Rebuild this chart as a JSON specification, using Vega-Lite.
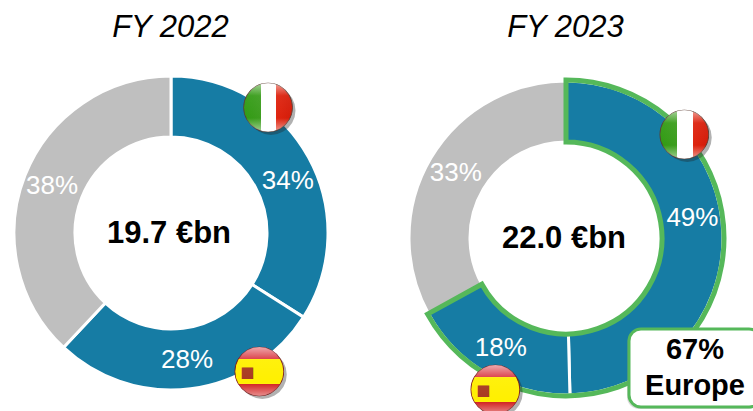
{"$schema":"https://vega.github.io/schema/vega-lite/v6.json","width":753,"height":411,"padding":0,"autosize":"none","background":"white","config":{"view":{"stroke":null}},
"datasets":{
"shares":[{"year":"FY 2022","region":"Italy","rank":1,"share":34,"labelAt":18.3,"text":"34%"},{"year":"FY 2022","region":"Spain","rank":2,"share":28,"labelAt":48,"text":"28%"},{"year":"FY 2022","region":"Other","rank":3,"share":38,"labelAt":81,"text":"38%"},{"year":"FY 2023","region":"Italy","rank":1,"share":49.6,"labelAt":22.5,"text":"49%"},{"year":"FY 2023","region":"Spain","rank":2,"share":17.4,"labelAt":58.5,"text":"18%"},{"year":"FY 2023","region":"Other","rank":3,"share":33,"labelAt":83.5,"text":"33%"}],
"totals":[{"year":"FY 2022","total":"19.7 €bn"},{"year":"FY 2023","total":"22.0 €bn"}],
"europe":[{"year":"FY 2023","from":0,"to":67,"label":"67%\nEurope"}],
"flags":[{"year":"FY 2022","flag":"Italy","at":10.5,"reach":1.01},{"year":"FY 2022","flag":"Spain","at":41,"reach":1.05},{"year":"FY 2023","flag":"Italy","at":13.6,"reach":1.0},{"year":"FY 2023","flag":"Spain","at":56.9,"reach":1.07}]
},
"data":{"name":"shares"},
"encoding":{
"x":{"field":"year","type":"nominal","scale":{"type":"point","domain":["FY 2022","FY 2023"],"range":[171,566],"padding":0},"axis":{"orient":"top","title":null,"domain":false,"ticks":false,"grid":false,"labelFont":"Liberation Sans","labelFontSize":31,"labelFontStyle":"italic","labelColor":"black","labelAngle":0,"labelPadding":0,"labelOffset":-1,"offset":-43}},
"y":{"field":"year","type":"nominal","scale":{"type":"point","domain":["FY 2022","FY 2023"],"range":[233,238],"padding":0},"axis":null}
},
"layer":[
{"transform":[{"stack":"share","groupby":["year"],"sort":[{"field":"rank","order":"ascending"}],"as":["s0","s1"]}],
"mark":{"type":"arc","radius":157,"radius2":96,"stroke":"white","strokeWidth":3},
"encoding":{"theta":{"field":"s0","type":"quantitative","scale":{"domain":[0,100],"range":[0,6.28318]}},"theta2":{"field":"s1"},"color":{"field":"region","type":"nominal","legend":null,"scale":{"domain":["Italy","Spain","Other"],"range":["#167CA4","#167CA4","#BFBFBF"]}}}},
{"data":{"name":"europe"},"mark":{"type":"arc","radius":158,"radius2":96,"fillOpacity":0,"fill":"white","stroke":"#55B85A","strokeWidth":5},"encoding":{"theta":{"field":"from","type":"quantitative","scale":{"domain":[0,100],"range":[0,6.28318]}},"theta2":{"field":"to"}}},
{"mark":{"type":"text","font":"Liberation Sans","fontSize":26,"color":"white","radius":128},"encoding":{"theta":{"field":"labelAt","type":"quantitative","scale":{"domain":[0,100],"range":[0,6.28318]}},"text":{"field":"text"}}},
{"data":{"name":"totals"},"mark":{"type":"text","font":"Liberation Sans","fontSize":31,"fontWeight":"bold","color":"black","dx":-2,"dy":1},"encoding":{"text":{"field":"total"}}},
{"data":{"name":"flags"},"mark":{"type":"text","font":"DejaVu Sans","fontSize":64,"color":"#222222","opacity":0.35,"dx":3,"dy":0,"baseline":"middle"},"encoding":{"theta":{"field":"at","type":"quantitative","scale":{"domain":[0,100],"range":[0,6.28318]}},"radius":{"field":"reach","type":"quantitative","scale":{"domain":[0,1],"range":[0,157]}},"text":{"value":"●"}}},
{"data":{"name":"flags"},"transform":[{"filter":"datum.flag==='Italy'"}],"mark":{"type":"text","font":"DejaVu Sans","fontSize":64,"dy":-3,"baseline":"middle","stroke":"#5A3A30","strokeWidth":0.7,"fill":{"gradient":"linear","x1":0,"x2":1,"y1":0,"y2":0,"stops":[{"offset":0,"color":"#2E9A10"},{"offset":0.375,"color":"#3E9E20"},{"offset":0.375,"color":"#FFFFFF"},{"offset":0.645,"color":"#FFFFFF"},{"offset":0.645,"color":"#E02510"},{"offset":1,"color":"#D01A08"}]}},"encoding":{"theta":{"field":"at","type":"quantitative","scale":{"domain":[0,100],"range":[0,6.28318]}},"radius":{"field":"reach","type":"quantitative","scale":{"domain":[0,1],"range":[0,157]}},"text":{"value":"●"}}},
{"data":{"name":"flags"},"transform":[{"filter":"datum.flag==='Spain'"}],"mark":{"type":"text","font":"DejaVu Sans","fontSize":64,"dy":-3,"baseline":"middle","stroke":"#7A1010","strokeWidth":0.7,"fill":{"gradient":"linear","x1":0,"x2":0,"y1":0,"y2":1,"stops":[{"offset":0,"color":"#D8303A"},{"offset":0.40,"color":"#D8303A"},{"offset":0.40,"color":"#FFF000"},{"offset":0.735,"color":"#FFF000"},{"offset":0.735,"color":"#D01818"},{"offset":1,"color":"#D01818"}]}},"encoding":{"theta":{"field":"at","type":"quantitative","scale":{"domain":[0,100],"range":[0,6.28318]}},"radius":{"field":"reach","type":"quantitative","scale":{"domain":[0,1],"range":[0,157]}},"text":{"value":"●"}}},
{"data":{"name":"flags"},"transform":[{"filter":"datum.flag==='Spain'"}],"mark":{"type":"text","font":"DejaVu Sans","fontSize":15,"dx":-12,"dy":0,"baseline":"middle","color":"#A83A20"},"encoding":{"theta":{"field":"at","type":"quantitative","scale":{"domain":[0,100],"range":[0,6.28318]}},"radius":{"field":"reach","type":"quantitative","scale":{"domain":[0,1],"range":[0,157]}},"text":{"value":"■"}}},
{"data":{"name":"flags"},"mark":{"type":"text","font":"DejaVu Sans","fontSize":64,"dy":-3,"baseline":"middle","fill":{"gradient":"linear","x1":0,"x2":0,"y1":0,"y2":1,"stops":[{"offset":0.2,"color":"rgba(255,255,255,0.7)"},{"offset":0.42,"color":"rgba(255,255,255,0.05)"},{"offset":0.72,"color":"rgba(255,255,255,0)"},{"offset":0.88,"color":"rgba(255,255,255,0.45)"}]}},"encoding":{"theta":{"field":"at","type":"quantitative","scale":{"domain":[0,100],"range":[0,6.28318]}},"radius":{"field":"reach","type":"quantitative","scale":{"domain":[0,1],"range":[0,157]}},"text":{"value":"●"}}},
{"data":{"name":"europe"},"mark":{"type":"rect","width":132,"height":78,"cornerRadius":12,"fill":"#888888","opacity":0.3,"xOffset":127,"yOffset":132}},
{"data":{"name":"europe"},"mark":{"type":"rect","width":132,"height":78,"cornerRadius":12,"fill":"white","stroke":"#55B85A","strokeWidth":3,"xOffset":129,"yOffset":130}},
{"data":{"name":"europe"},"mark":{"type":"text","font":"Liberation Sans","fontSize":29,"fontWeight":"bold","color":"black","lineBreak":"\n","lineHeight":36,"xOffset":129,"yOffset":112},"encoding":{"text":{"field":"label"}}}
]}
